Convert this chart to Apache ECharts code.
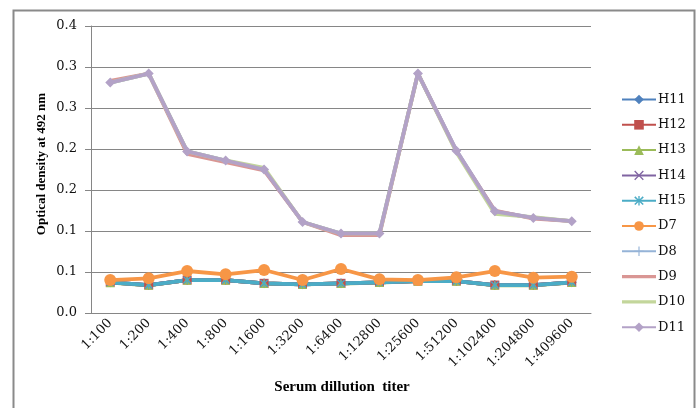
<!DOCTYPE html>
<html><head><meta charset="utf-8">
<script src="https://cdn.jsdelivr.net/npm/echarts@6/dist/echarts.min.js"></script>
<style>html,body{margin:0;padding:0;background:#fff}#c{width:697px;height:408px}</style>
</head><body><div id="c"></div>
<script>
const categories = ['1:100','1:200','1:400','1:800','1:1600','1:3200','1:6400','1:12800','1:25600','1:51200','1:102400','1:204800','1:409600'];
const yTickLabels = ['0.0','0.1','0.1','0.2','0.2','0.3','0.3','0.4'];
const H11 = [0.0374,0.0341,0.0402,0.0402,0.0362,0.0350,0.0362,0.0374,0.0390,0.0390,0.0341,0.0341,0.0374];
const H12 = [0.0374,0.0341,0.0402,0.0402,0.0362,0.0350,0.0362,0.0374,0.0390,0.0390,0.0341,0.0341,0.0374];
const H13 = [0.0370,0.0338,0.0400,0.0400,0.0360,0.0348,0.0360,0.0372,0.0388,0.0388,0.0338,0.0338,0.0372];
const H14 = [0.0374,0.0341,0.0402,0.0402,0.0362,0.0350,0.0362,0.0374,0.0390,0.0390,0.0341,0.0341,0.0374];
const H15 = [0.0374,0.0341,0.0402,0.0402,0.0362,0.0350,0.0362,0.0374,0.0390,0.0390,0.0341,0.0341,0.0374];
const D7  = [0.0402,0.0423,0.0512,0.0472,0.0524,0.0402,0.0537,0.0411,0.0402,0.0435,0.0512,0.0431,0.0443];
const D8  = [0.2810,0.2920,0.1970,0.1860,0.1750,0.1110,0.0970,0.0970,0.2920,0.1980,0.1240,0.1160,0.1120];
const D9  = [0.2830,0.2920,0.1940,0.1840,0.1740,0.1110,0.0950,0.0950,0.2920,0.1970,0.1250,0.1150,0.1120];
const D10 = [0.2810,0.2920,0.1970,0.1860,0.1770,0.1110,0.0970,0.0970,0.2920,0.1960,0.1210,0.1170,0.1120];
const D11 = [0.2810,0.2920,0.1970,0.1860,0.1750,0.1110,0.0970,0.0970,0.2920,0.1980,0.1240,0.1160,0.1120];

const X_PATH = 'path://M0,1L1,0L5,4L9,0L10,1L6,5L10,9L9,10L5,6L1,10L0,9L4,5Z';
const STAR_PATH = 'path://M0,1.6L1.2,0.4L5,4.2L8.8,0.4L10,1.6L6.2,5L10,8.4L8.8,9.6L5,5.8L1.2,9.6L0,8.4L3.8,5Z M4.3,0L5.7,0L5.7,10L4.3,10Z';
const PLUS_PATH = 'path://M4.4,0L5.6,0L5.6,4.4L10,4.4L10,5.6L5.6,5.6L5.6,10L4.4,10L4.4,5.6L0,5.6L0,4.4L4.4,4.4Z';
const LINE_ICON = 'path://M0,0L0.01,0L0,0.01Z M0,4.3L34,4.3L34,7.7L0,7.7Z M34,12L33.99,12L34,11.99Z';

function mk(name, data, color, symbol, size) {
  return {
    name: name, type: 'line', data: data,
    symbol: symbol || 'none', symbolSize: size || 8, showSymbol: !!symbol,
    lineStyle: { color: color, width: 3.8 },
    itemStyle: { color: color },
    emphasis: { disabled: true }, animation: false
  };
}
const series = [
  mk('H11', H11, '#4F81BD', 'diamond', 10),
  mk('H12', H12, '#C0504D', 'rect', 9),
  mk('H13', H13, '#9BBB59', 'triangle', 9),
  mk('H14', H14, '#8064A2', X_PATH, 8),
  mk('H15', H15, '#4BACC6', STAR_PATH, 8),
  mk('D7', D7, '#F79646', 'circle', 12),
  mk('D8', D8, '#95B3D7', PLUS_PATH, 8),
  mk('D9', D9, '#D99694'),
  mk('D10', D10, '#C3D69B'),
  mk('D11', D11, '#B3A2C7', 'diamond', 10)
];

const chart = echarts.init(document.getElementById('c'), null, { renderer: 'canvas' });
chart.setOption({
  animation: false,
  backgroundColor: '#fff',
  grid: { left: 91, right: 106, top: 26, bottom: 95, containLabel: false },
  xAxis: {
    type: 'category', data: categories, boundaryGap: true,
    axisLine: { lineStyle: { color: '#868686', width: 1 } },
    axisTick: { show: false },
    axisLabel: { rotate: 45, margin: 8, color: '#111', fontFamily: 'DejaVu Serif', fontSize: 13 },
    splitLine: { show: false }
  },
  yAxis: {
    type: 'value', min: 0, max: 0.35, interval: 0.05,
    axisLine: { show: true, lineStyle: { color: '#868686', width: 1 } },
    axisTick: { show: true, length: 6, lineStyle: { color: '#868686' } },
    axisLabel: { margin: 14, color: '#111', fontFamily: 'DejaVu Serif', fontSize: 13,
      formatter: function (v) { return yTickLabels[Math.round(v / 0.05)]; } },
    splitLine: { lineStyle: { color: '#868686', width: 1 } }
  },
  legend: {
    orient: 'vertical', left: 616, top: 88,
    itemWidth: 34, itemHeight: 12, itemGap: 12.3,
    textStyle: { fontFamily: 'DejaVu Serif', fontSize: 13, color: '#111', padding: [0, 0, 0, -3] },
    data: series.map(s => (s.symbol === 'none' ? { name: s.name, icon: LINE_ICON } : s.name))
  },
  graphic: [
    { type: 'rect', silent: true, z: -1, shape: { x: 13.5, y: 10.5, width: 681, height: 430 },
      style: { fill: null, stroke: '#8a8a8a', lineWidth: 2 } },
    { type: 'text', x: 42, y: 164, rotation: Math.PI / 2,
      style: { text: 'Optical density at 492 nm', font: 'bold 13px "Liberation Serif"', fill: '#000',
        textAlign: 'center', textVerticalAlign: 'middle' } },
    { type: 'text', x: 342, y: 387,
      style: { text: 'Serum dillution  titer', font: 'bold 15px "Liberation Serif"', fill: '#000',
        textAlign: 'center', textVerticalAlign: 'middle' } }
  ],
  series: series
});
</script></body></html>
